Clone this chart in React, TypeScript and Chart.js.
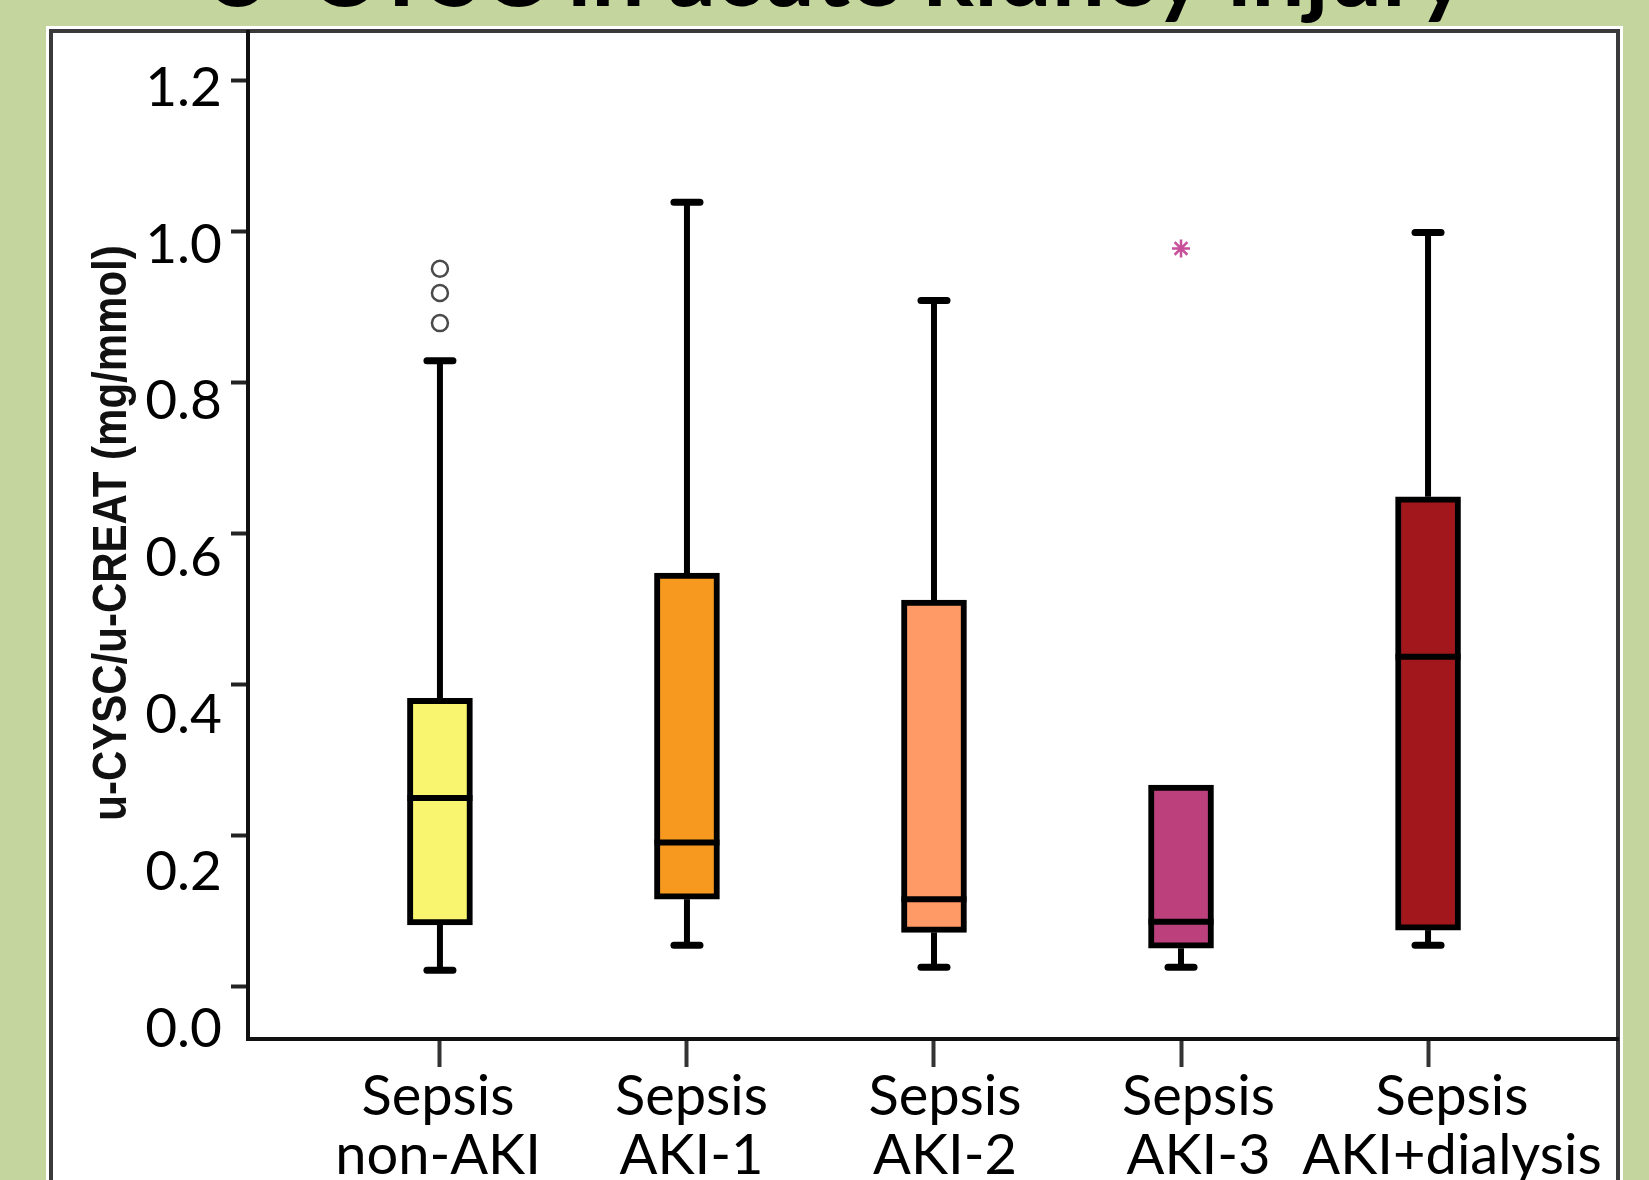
import React, { useEffect, useRef } from 'react';
import { Chart, registerables } from 'chart.js';

Chart.register(...registerables);

// ---------- data ----------
const TITLE = 'U-CYSC in acute kidney injury';
const Y_TITLE = 'u-CYSC/u-CREAT (mg/mmol)';
const CATEGORIES: string[][] = [
  ['Sepsis', 'non-AKI'],
  ['Sepsis', 'AKI-1'],
  ['Sepsis', 'AKI-2'],
  ['Sepsis', 'AKI-3'],
  ['Sepsis', 'AKI+dialysis'],
];
const WHISKER_LOW = [0.021, 0.054, 0.025, 0.025, 0.054];
const Q1 = [0.081, 0.115, 0.071, 0.050, 0.074];
const MEDIAN = [0.249, 0.190, 0.115, 0.085, 0.436];
const Q3 = [0.381, 0.547, 0.511, 0.266, 0.648];
const WHISKER_HIGH = [0.828, 1.038, 0.908, 0.266, 0.998];
const OUTLIER_GROUP = [0, 0, 0];
const OUTLIER_VALUES = [0.950, 0.918, 0.878];
const EXTREME_GROUP = [3];
const EXTREME_VALUES = [0.977];
const Y_TICKS = [0, 0.2, 0.4, 0.6, 0.8, 1.0, 1.2];
const Y_TICK_LABELS = ['0.0', '0.2', '0.4', '0.6', '0.8', '1.0', '1.2'];
const BOX_COLORS = ['#F9F56E', '#F7991F', '#FF9966', '#BC407C', '#A2171B'];

// ---------- style ----------
const W = 1649;
const H = 1180;
const AXIS_BOTTOM = 1039;
const GREEN = '#C4D69E';
const LABEL_FONT = 'Lato, "Open Sans", sans-serif';
const BOX_W = 65;
const CAP_W = 32;
const LINE_W = 6;
const X_TICK_LEN = 28;

const decorPlugin = {
  id: 'decor',
  beforeDraw(chart: any) {
    const ctx = chart.ctx as CanvasRenderingContext2D;
    ctx.save();
    ctx.fillStyle = GREEN;
    ctx.fillRect(0, 0, W, H);
    // slide title (cut off at top)
    ctx.fillStyle = '#000';
    ctx.font = `bold 100px ${LABEL_FONT}`;
    const tw = ctx.measureText(TITLE).width;
    const size = (100 * 1265) / tw;
    ctx.font = `bold ${size}px ${LABEL_FONT}`;
    ctx.textAlign = 'center';
    ctx.textBaseline = 'alphabetic';
    ctx.fillText(TITLE, 835, 6);
    // white panel
    ctx.fillStyle = '#fff';
    ctx.fillRect(46, 26, 1623 - 46, H);
    // SPSS frame
    ctx.strokeStyle = '#3a3a3a';
    ctx.lineWidth = 4;
    ctx.strokeRect(51, 31, 1618 - 51, H + 20);
    // y axis title (rotated, slightly stretched like the pasted image)
    ctx.save();
    ctx.translate(126, 533);
    ctx.rotate(-Math.PI / 2);
    ctx.scale(1, 1.15);
    ctx.font = 'bold 42px "Liberation Sans", Arial, sans-serif';
    ctx.fillStyle = '#111';
    ctx.textAlign = 'center';
    ctx.textBaseline = 'alphabetic';
    ctx.fillText(Y_TITLE, 0, 0);
    ctx.restore();
    ctx.restore();
  },
  beforeDatasetsDraw(chart: any) {
    const ctx = chart.ctx as CanvasRenderingContext2D;
    const xs = chart.scales.x;
    const ys = chart.scales.y;
    ctx.save();
    ctx.strokeStyle = '#000';
    CATEGORIES.forEach((_, i) => {
      const x = xs.getPixelForValue(i);
      const segs: [number, number][] = [
        [Q3[i], WHISKER_HIGH[i]],
        [Q1[i], WHISKER_LOW[i]],
      ];
      segs.forEach(([from, to]) => {
        if (Math.abs(from - to) < 1e-9) return;
        const y0 = ys.getPixelForValue(from);
        const y1 = ys.getPixelForValue(to);
        ctx.lineCap = 'butt';
        ctx.lineWidth = LINE_W;
        ctx.beginPath();
        ctx.moveTo(x, y0);
        ctx.lineTo(x, y1);
        ctx.stroke();
        ctx.lineCap = 'round';
        ctx.lineWidth = 7;
        ctx.beginPath();
        ctx.moveTo(x - CAP_W / 2 + 3, y1);
        ctx.lineTo(x + CAP_W / 2 - 3, y1);
        ctx.stroke();
      });
    });
    ctx.restore();
  },
  afterDatasetsDraw(chart: any) {
    const ctx = chart.ctx as CanvasRenderingContext2D;
    const xs = chart.scales.x;
    const ys = chart.scales.y;
    ctx.save();
    ctx.strokeStyle = '#000';
    ctx.lineWidth = LINE_W;
    ctx.lineCap = 'butt';
    MEDIAN.forEach((m, i) => {
      const x = xs.getPixelForValue(i);
      const y = ys.getPixelForValue(m);
      ctx.beginPath();
      ctx.moveTo(x - BOX_W / 2, y);
      ctx.lineTo(x + BOX_W / 2, y);
      ctx.stroke();
    });
    ctx.restore();
  },
};

// axis ranges (layout of the original picture; its labels were set by hand)
const Y_MIN = -0.0702;
const Y_MAX = 1.2636;
const YLAB_MIN = -0.0128;
const YLAB_MAX = 1.2714;
const X_MIN = -0.777;
const X_MAX = 4.769;
const XLAB_MIN = -0.7495;
const XLAB_MAX = 4.6548;

const noPad = (s: any) => {
  s.paddingTop = 0;
  s.paddingBottom = 0;
  s.paddingLeft = 0;
  s.paddingRight = 0;
};

export default function App() {
  const ref = useRef<HTMLCanvasElement | null>(null);
  useEffect(() => {
    document.body.style.margin = '0';
    const canvas = ref.current!;
    const chart = new Chart(canvas, {
      type: 'bar',
      data: {
        datasets: [
          {
            type: 'bar',
            data: CATEGORIES.map((_, i) => ({ x: i, y: [Q1[i], Q3[i]] })) as any,
            backgroundColor: BOX_COLORS,
            borderColor: '#000',
            borderWidth: LINE_W,
            borderSkipped: false,
            barThickness: BOX_W,
            xAxisID: 'x',
            yAxisID: 'y',
          } as any,
          {
            type: 'scatter',
            data: OUTLIER_GROUP.map((g, i) => ({ x: g, y: OUTLIER_VALUES[i] })),
            pointStyle: 'circle',
            pointRadius: 8,
            pointBorderWidth: 2.5,
            pointBorderColor: '#4a4a4a',
            pointBackgroundColor: '#ffffff',
            showLine: false,
            xAxisID: 'x',
            yAxisID: 'y',
          } as any,
          {
            type: 'scatter',
            data: EXTREME_GROUP.map((g, i) => ({ x: g, y: EXTREME_VALUES[i] })),
            pointStyle: 'star',
            pointRadius: 9,
            pointBorderWidth: 2.5,
            pointBorderColor: '#C8509A',
            pointBackgroundColor: '#C8509A',
            showLine: false,
            xAxisID: 'x',
            yAxisID: 'y',
          } as any,
        ],
      },
      options: {
        responsive: false,
        animation: false,
        devicePixelRatio: 1,
        events: [],
        layout: { padding: { left: 0, right: 31, top: 32, bottom: 0 } },
        plugins: { legend: { display: false }, tooltip: { enabled: false }, title: { display: false } },
        scales: {
          x: {
            type: 'linear',
            position: 'bottom',
            weight: 0,
            min: X_MIN,
            max: X_MAX,
            offset: false,
            bounds: 'data',
            afterBuildTicks: (s: any) => {
              s.ticks = CATEGORIES.map((_, i) => ({ value: i }));
            },
            afterFit: (s: any) => {
              s.height = X_TICK_LEN;
              noPad(s);
            },
            ticks: { display: false },
            grid: { drawOnChartArea: false, offset: false, tickLength: X_TICK_LEN, tickWidth: 4, tickColor: '#333' },
            border: { color: '#111', width: 4 },
          } as any,
          xLab: {
            type: 'linear',
            position: 'bottom',
            weight: 10,
            min: XLAB_MIN,
            max: XLAB_MAX,
            offset: false,
            bounds: 'data',
            afterBuildTicks: (s: any) => {
              s.ticks = CATEGORIES.map((_, i) => ({ value: i }));
            },
            afterFit: (s: any) => {
              s.height = H - AXIS_BOTTOM - X_TICK_LEN;
              noPad(s);
            },
            ticks: {
              autoSkip: false,
              maxRotation: 0,
              minRotation: 0,
              padding: 0,
              color: '#000',
              font: { family: LABEL_FONT, size: 56, lineHeight: 59 / 56 },
              callback: (_v: any, i: number) => CATEGORIES[i],
            },
            grid: { display: false, drawTicks: false, offset: false },
            border: { display: false },
          } as any,
          y: {
            type: 'linear',
            position: 'left',
            weight: 0,
            min: Y_MIN,
            max: Y_MAX,
            bounds: 'data',
            afterBuildTicks: (s: any) => {
              s.ticks = Y_TICKS.map((v) => ({ value: v }));
            },
            afterFit: (s: any) => {
              s.width = 17;
              noPad(s);
            },
            ticks: { display: false },
            grid: { drawOnChartArea: false, tickLength: 17, tickWidth: 4, tickColor: '#222' },
            border: { color: '#111', width: 4 },
          } as any,
          yLab: {
            type: 'linear',
            position: 'left',
            weight: 10,
            min: YLAB_MIN,
            max: YLAB_MAX,
            bounds: 'data',
            afterBuildTicks: (s: any) => {
              s.ticks = Y_TICKS.map((v) => ({ value: v }));
            },
            afterFit: (s: any) => {
              s.width = 231;
              noPad(s);
            },
            ticks: {
              padding: 9,
              color: '#000',
              font: { family: LABEL_FONT, size: 55 },
              callback: (_v: any, i: number) => Y_TICK_LABELS[i],
            },
            grid: { display: false, drawTicks: false },
            border: { display: false },
          } as any,
        },
      },
      plugins: [decorPlugin],
    });
    return () => chart.destroy();
  }, []);
  return (
    <div style={{ width: W, height: H }}>
      <canvas ref={ref} width={W} height={H} style={{ display: 'block', width: W, height: H }} />
    </div>
  );
}
